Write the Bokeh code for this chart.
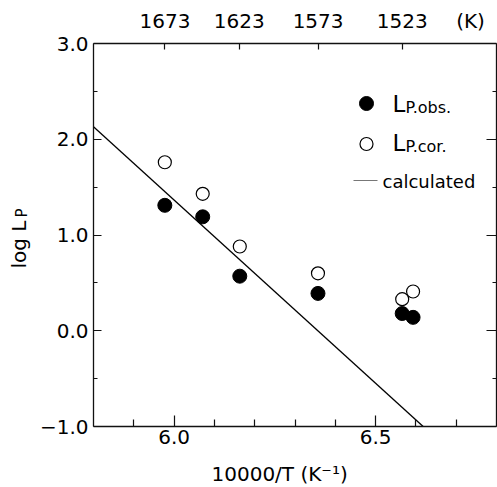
import math
from bokeh.plotting import figure
from bokeh.models import Range1d, LinearAxis, FixedTicker, CustomJSTickFormatter, Label
from bokeh.embed import file_html
from bokeh.resources import INLINE

# ---- data ----
obs_x = [5.977, 6.071, 6.163, 6.357, 6.566, 6.593]
obs_y = [1.31, 1.19, 0.57, 0.39, 0.18, 0.14]
cor_x = [5.977, 6.071, 6.163, 6.357, 6.566, 6.593]
cor_y = [1.76, 1.43, 0.88, 0.60, 0.33, 0.41]
calc_x = [5.80, 6.618]
calc_y = [2.13, -1.00]

x_major = [6.0, 6.5]
x_minor = [5.9, 6.1, 6.2, 6.3, 6.4, 6.6, 6.7]
y_major = [-1.0, 0.0, 1.0, 2.0, 3.0]
y_minor = [-0.5, 0.5, 1.5, 2.5]
temps_K = [1673, 1623, 1573, 1523]

FONT = "DejaVu Sans"
W, H = 497, 487
K_UNIT_POS = 6.7355  # where the "(K)" unit sits along the top axis

p = figure(width=W, height=H, x_range=Range1d(5.8, 6.8), y_range=Range1d(-1.0, 3.0),
           output_backend="svg", toolbar_location=None,
           x_axis_location=None, y_axis_location=None,
           min_border_left=93, min_border_right=1, min_border_top=43, min_border_bottom=61)
p.grid.visible = False
p.outline_line_color = None
p.background_fill_color = "white"
p.border_fill_color = "white"


def style(ax, tin, minor_in, size, standoff):
    ax.major_tick_in = tin
    ax.major_tick_out = 0
    ax.minor_tick_in = minor_in
    ax.minor_tick_out = 0
    ax.axis_line_color = "#111111"
    ax.axis_line_width = 1.3
    ax.major_tick_line_color = "#111111"
    ax.minor_tick_line_color = "#111111"
    ax.major_tick_line_width = 1.2
    ax.minor_tick_line_width = 1.2
    ax.major_label_text_font = FONT
    ax.major_label_text_font_size = size
    ax.major_label_text_color = "black"
    ax.major_label_standoff = standoff


bottom = LinearAxis(ticker=FixedTicker(ticks=x_major, minor_ticks=x_minor),
                    formatter=CustomJSTickFormatter(code="return tick.toFixed(1)"))
style(bottom, 11, 7, "20px", 3)
p.add_layout(bottom, "below")

left = LinearAxis(ticker=FixedTicker(ticks=y_major, minor_ticks=y_minor),
                  formatter=CustomJSTickFormatter(
                      code="return (tick < 0 ? '\u2212' : '') + Math.abs(tick).toFixed(1)"))
style(left, 8, 4, "20px", 5)
p.add_layout(left, "left")

top_pos = [10000.0 / t for t in temps_K]
# inner top axis: frame line and tick marks only
top_ticks = LinearAxis(ticker=FixedTicker(ticks=top_pos, minor_ticks=[]),
                       formatter=CustomJSTickFormatter(code="return ''"))
style(top_ticks, 6, 0, "0px", 0)
p.add_layout(top_ticks, "above")
# outer top axis: temperature labels and unit
top_labels = LinearAxis(ticker=FixedTicker(ticks=top_pos + [K_UNIT_POS], minor_ticks=[]),
                        formatter=CustomJSTickFormatter(
                            code="return tick > 6.7 ? '(K)' : Math.round(10000/tick).toString()"))
style(top_labels, 0, 0, "20px", 11)
top_labels.axis_line_color = None
top_labels.major_tick_line_color = None
top_labels.minor_tick_line_color = None
p.add_layout(top_labels, "above")

right = LinearAxis(ticker=FixedTicker(ticks=y_major, minor_ticks=y_minor),
                   formatter=CustomJSTickFormatter(code="return ''"))
style(right, 10, 4, "1px", 0)
p.add_layout(right, "right")

# ---- data marks ----
p.line(calc_x, calc_y, line_color="black", line_width=1.3)
p.scatter(obs_x, obs_y, marker="circle", size=14, fill_color="black", line_color="black")
p.scatter(cor_x, cor_y, marker="circle", size=13, fill_color="white", line_color="black",
          line_width=1.2)


# ---- helpers: picture pixel -> data coordinate (for legend placement) ----
def px(xp):
    return 5.8 + (xp - 93.0) / 403.0


def py(yp):
    return 3.0 - (yp - 43.0) / 95.75


def lab(text, x, y, size, angle=0.0):
    p.add_layout(Label(x=px(x), y=py(y), text=text, text_font=FONT, text_font_size=size,
                       text_align="left", text_baseline="alphabetic", angle=angle,
                       text_color="black"))


def clab(text, x, y, size, side, angle=0.0):
    # texts outside the plot frame live in a side panel, placed in canvas pixels
    p.add_layout(Label(x=x, y=y, x_units="canvas", y_units="canvas", text=text,
                       text_font=FONT, text_font_size=size, text_align="left",
                       text_baseline="alphabetic", angle=angle, text_color="black"), side)


# axis titles
clab("10000/T (K\u207b\u00b9)", 211, 473, "20px", "below")
clab("log L", 18, 268, "20px", "left", angle=math.pi / 2)
clab("P", 21, 217, "15px", "below", angle=math.pi / 2)

# ---- legend ----
leg_sym_x = [px(366)]
p.scatter(leg_sym_x, [py(103)], marker="circle", size=14, fill_color="black", line_color="black")
p.scatter(leg_sym_x, [py(143.5)], marker="circle", size=13, fill_color="white",
          line_color="black", line_width=1.2)
p.line([px(353), px(377)], [py(180), py(180)], line_color="#777777", line_width=1)

lab("L", 392, 103, "23px")
lab("P.obs.", 405, 106.5, "16px")
lab("L", 392, 142.5, "23px")
lab("P.cor.", 405, 145.5, "16px")
lab("calculated", 382, 181, "18px")

open("out.html", "w").write(file_html(p, INLINE))
